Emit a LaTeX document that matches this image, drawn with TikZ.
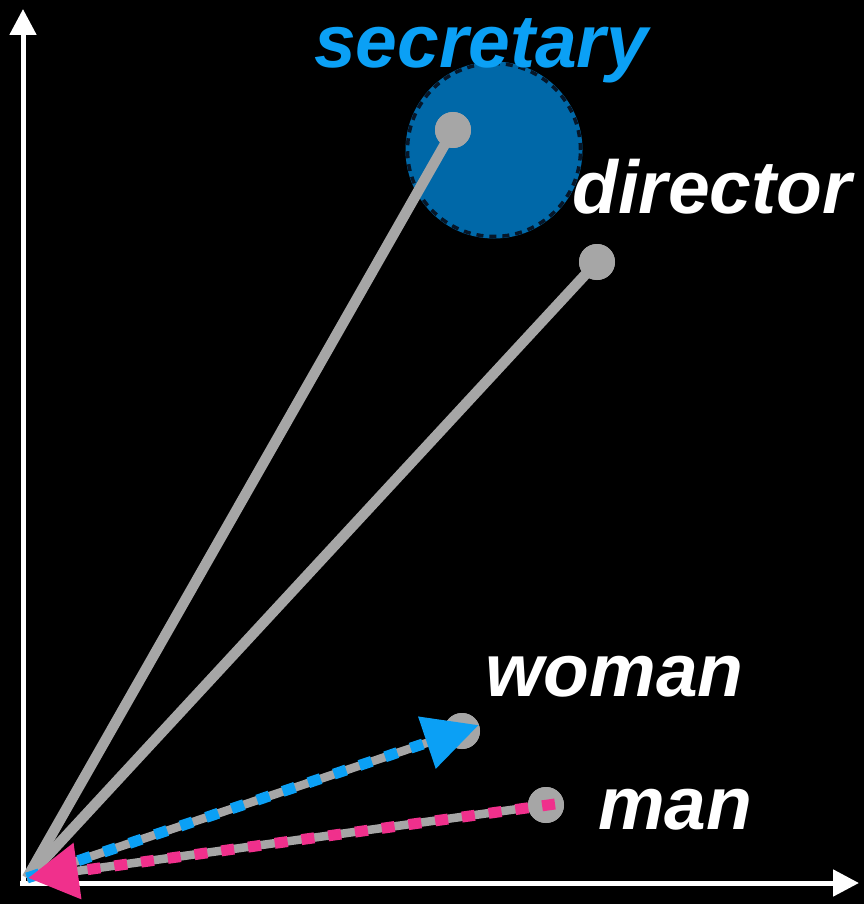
\documentclass[tikz,border=0pt]{standalone}
\usepackage{fontspec}
\setmainfont{Liberation Sans}
\usetikzlibrary{arrows.meta}
\definecolor{vgray}{HTML}{A6A6A6}
\definecolor{wblue}{HTML}{0BA0F5}
\definecolor{mpink}{HTML}{F0308C}
\definecolor{cblue}{HTML}{0068A8}
\definecolor{cnavy}{HTML}{061628}
\tikzset{
  vecline/.style={vgray, line width=10.5pt},
  thinvec/.style={vgray, line width=8.5pt},
  vdot/.style={circle, fill=vgray, inner sep=0pt, minimum size=36pt},
  axisline/.style={white, line width=5pt, -{Triangle[length=26pt,width=26pt]}},
  lbl/.style={font=\fontsize{75}{75}\selectfont\bfseries\itshape, inner sep=0pt, anchor=base west, white},
  womanvec/.style={wblue, line width=11pt, dash pattern=on 13pt off 14pt, -{Triangle[length=55pt,width=52pt]}},
  manvec/.style={mpink, line width=11pt, dash pattern=on 13pt off 14pt, -{Triangle[length=50pt,width=54pt]}},
  cloudfill/.style={circle, fill=cblue, minimum size=177pt, inner sep=0pt},
  cloudedge/.style={circle, draw=cnavy, line width=3.5pt, dash pattern=on 7pt off 6pt, minimum size=173pt, inner sep=0pt},
}
\begin{document}
\begin{tikzpicture}[x=1pt,y=-1pt]
\fill[black] (0,0) rectangle (864,904);
\useasboundingbox (0,0) rectangle (864,904);
% axes
\coordinate (ybot) at (23,883);
\coordinate (ytop) at (23,9);
\coordinate (xleft) at (20,883);
\coordinate (xright) at (859,883);
\draw[axisline] (ybot) -- (ytop);
\draw[axisline] (xleft) -- (xright);
% secretary cloud
\node[cloudfill] (cloud) at (494,150) {};
\node[cloudedge] (cloudrim) at (cloud.center) {};
% points
\coordinate (O) at (27,878);
\node[vdot] (sec) at (453,130) {};
\node[vdot] (dir) at (597,262) {};
\node[vdot] (wom) at (462,731) {};
\node[vdot] (man) at (546,805) {};
\draw[vecline] (O) -- (sec.center);
\draw[vecline] (O) -- (dir.center);
\draw[thinvec] (O) -- (wom.center);
\draw[thinvec] (O) -- (man.center);
\node[vdot] at (sec) {};
\node[vdot] at (dir) {};
\node[vdot] at (wom) {};
\node[vdot] at (man) {};
% analogy vectors
\coordinate (wtip) at (479,725);
\coordinate (mtip) at (28,878);
\coordinate (mstart) at (555,804);
\draw[womanvec] (O) -- (wtip);
\draw[manvec] (mstart) -- (mtip);
% labels
\node[lbl, text=wblue] (tsec) at (314,68) {secretary};
\node[lbl] (tdir) at (572,213) {director};
\node[lbl] (twom) at (485,696) {woman};
\node[lbl] (tman) at (598,829) {man};
\end{tikzpicture}
\end{document}
